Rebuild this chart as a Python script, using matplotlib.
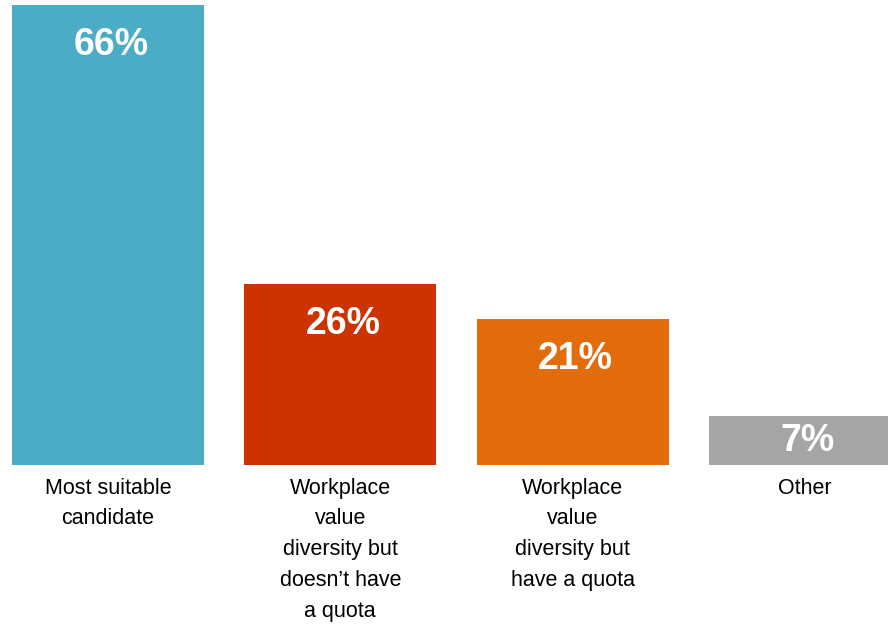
import matplotlib
matplotlib.use("Agg")
import matplotlib.pyplot as plt
from matplotlib import font_manager
from matplotlib.transforms import blended_transform_factory

categories = [
    "Most suitable\ncandidate",
    "Workplace\nvalue\ndiversity but\ndoesn\u2019t have\na quota",
    "Workplace\nvalue\ndiversity but\nhave a quota",
    "Other",
]
values = [66, 26, 21, 7]
value_labels = ["66%", "26%", "21%", "7%"]
colors = ["#4BACC6", "#CC3300", "#E36C0A", "#A5A5A5"]

installed = {f.name for f in font_manager.fontManager.ttflist}
label_family = "Liberation Sans Narrow" if "Liberation Sans Narrow" in installed else "Liberation Sans"

fig = plt.figure(figsize=(8.88, 6.29), dpi=100)
ax = fig.add_axes([0.0, 0.2607, 1.0, 0.7393])

x = list(range(len(values)))
ax.bar(x, values, width=0.827, color=colors, edgecolor="none")
ax.set_xlim(-0.465, 3.358)
ax.set_ylim(0, 66.72)
ax.axis("off")

label_style = dict(color="white", fontsize=27, fontweight="bold",
                   family="Liberation Sans", ha="center")
for xi, v, lab in zip(x, values, value_labels):
    if v >= 10:
        # inside the bar, near its top
        ax.annotate(lab, xy=(xi, v), xytext=(2, -16), textcoords="offset points",
                    va="top", **label_style)
    else:
        # short bar: centre the label vertically
        ax.annotate(lab, xy=(xi, v / 2), xytext=(2, 0), textcoords="offset points",
                    va="center", **label_style)

trans = blended_transform_factory(ax.transData, ax.transAxes)
for xi, cat in zip(x, categories):
    ax.annotate(cat, xy=(xi, 0), xycoords=trans, xytext=(0, -9),
                textcoords="offset points", ha="center", va="top",
                fontsize=15.5, family=label_family, color="black",
                linespacing=1.62)

fig.savefig("out.png", dpi=100)
